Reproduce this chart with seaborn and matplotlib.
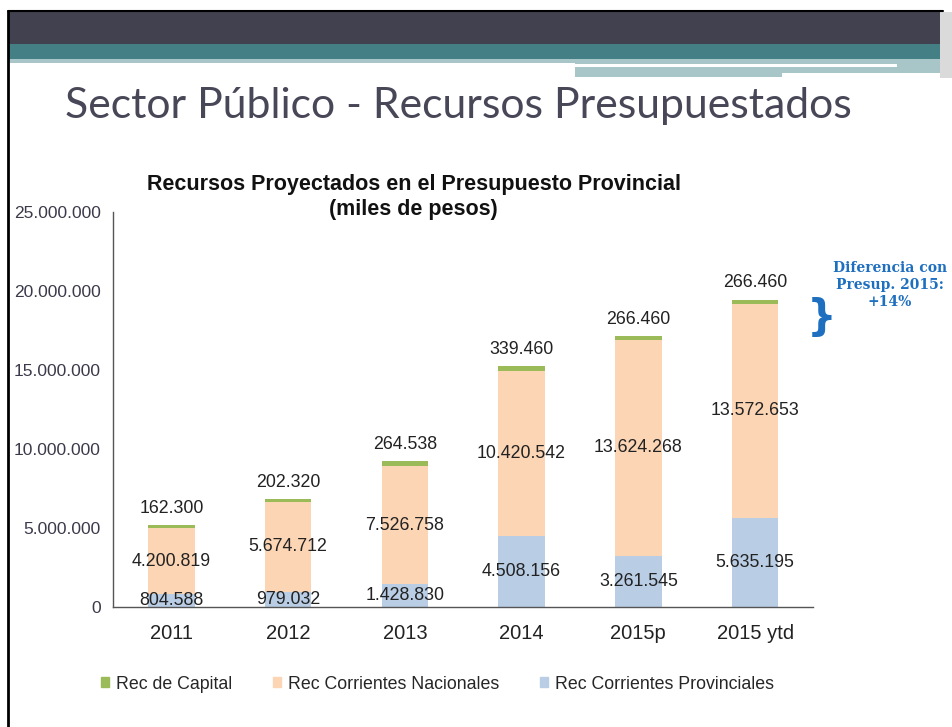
import numpy as np
import pandas as pd
import matplotlib
matplotlib.use('Agg')
import matplotlib.pyplot as plt
import seaborn as sns
from matplotlib.patches import Rectangle
from matplotlib.ticker import FuncFormatter, FixedLocator

# data (miles de pesos)
years = ['2011', '2012', '2013', '2014', '2015p', '2015 ytd']
rec_capital = [162300, 202320, 264538, 339460, 266460, 266460]
rec_nacionales = [4200819, 5674712, 7526758, 10420542, 13624268, 13572653]
rec_provinciales = [804588, 979032, 1428830, 4508156, 3261545, 5635195]

c_cap = '#9BBB59'
c_nac = '#FCD5B5'
c_prov = '#B9CDE5'

df = pd.DataFrame({'year': years, 'cap': rec_capital,
                   'nac': rec_nacionales, 'prov': rec_provinciales})
df['low'] = df['prov']
df['mid'] = df['prov'] + df['nac']
df['top'] = df['mid'] + df['cap']

sns.set_style('white')
plt.rcParams['font.family'] = ['Liberation Sans', 'DejaVu Sans']

fig = plt.figure(figsize=(9.53, 7.27), dpi=100)

# slide decoration
deco = fig.add_axes([0, 0, 1, 1], zorder=-5)
deco.set_xlim(0, 953)
deco.set_ylim(727, 0)
deco.axis('off')
deco.add_patch(Rectangle((8, 12), 935, 32, color='#41414F', lw=0))
deco.add_patch(Rectangle((8, 44), 935, 15, color='#447F85', lw=0))
deco.add_patch(Rectangle((8, 59), 567, 4, color='#A8C6C8', lw=0))
deco.add_patch(Rectangle((575, 59), 365, 18, color='#A8C6C8', lw=0))
deco.add_patch(Rectangle((575, 64), 322, 2.5, color='white', lw=0))
deco.add_patch(Rectangle((782, 73), 158, 4, color='white', lw=0))
deco.add_patch(Rectangle((940, 12), 13, 66, color='#DADADA', lw=0))
deco.plot([8, 8], [11, 727], color='black', lw=2)
deco.plot([8, 943], [11, 11], color='black', lw=1.5)
deco.text(65, 106, 'Sector Público - Recursos Presupuestados', fontsize=30.8,
          color='#474757', va='center', ha='left', family=['Lato', 'DejaVu Sans'])

ax = fig.add_axes([0.1186, 0.165, 0.735, 0.543])
w = 0.4
for col, c in [('top', c_cap), ('mid', c_nac), ('low', c_prov)]:
    sns.barplot(data=df, x='year', y=col, color=c, width=w, saturation=1,
                linewidth=0, edgecolor='none', ax=ax)

fmt = lambda v: f'{int(v):,}'.replace(',', '.')
lab = dict(fontsize=12.8, color='#222222')
for i in range(len(years)):
    ax.text(i, df['low'][i] / 2, fmt(rec_provinciales[i]), ha='center', va='center', **lab)
    ax.text(i, df['low'][i] + rec_nacionales[i] / 2, fmt(rec_nacionales[i]), ha='center',
            va='center', **lab)
    ax.annotate(fmt(rec_capital[i]), (i, df['top'][i]), xytext=(0, 12),
                textcoords='offset points', ha='center', va='center', **lab)

ax.set_ylim(0, 25000000)
ax.set_xlim(-0.5, 5.5)
ax.yaxis.set_major_locator(FixedLocator(np.arange(0, 25000001, 5000000)))
ax.yaxis.set_major_formatter(FuncFormatter(lambda v, p: fmt(v)))
ax.set_xlabel('')
ax.set_ylabel('')
ax.xaxis.set_minor_locator(FixedLocator(np.arange(0.5, 6, 1)))
ax.tick_params(axis='x', which='major', length=0, labelsize=14.5, pad=12, colors='#222222')
ax.tick_params(axis='x', which='minor', length=5, width=1, color='#555555', direction='out')
ax.tick_params(axis='y', length=5, width=1, color='#555555', direction='out',
               labelsize=12.5, labelcolor='#3a3a4a', pad=4)
for s in ['top', 'right']:
    ax.spines[s].set_visible(False)
for s in ['left', 'bottom']:
    ax.spines[s].set_color('#555555')
    ax.spines[s].set_linewidth(1)

fig.text(0.434, 0.729, 'Recursos Proyectados en el Presupuesto Provincial\n(miles de pesos)',
         ha='center', va='center', fontsize=15.5, fontweight='bold', color='#111111',
         linespacing=1.2)

# legend
handles = [Rectangle((0, 0), 1, 1, color=c) for c in [c_cap, c_nac, c_prov]]
fig.legend(handles, ['Rec de Capital', 'Rec Corrientes Nacionales', 'Rec Corrientes Provinciales'],
           loc='center', bbox_to_anchor=(0.459, 0.059), ncol=3, frameon=False,
           fontsize=12.8, handlelength=0.45, handleheight=0.45, columnspacing=2.3,
           handletextpad=0.4)

# side note
fig.text(0.934, 0.608, 'Diferencia con\nPresup. 2015:\n+14%', ha='center', va='center',
         fontsize=10, fontweight='bold', color='#1F6FC0', family=['DejaVu Serif'],
         linespacing=1.28)
fig.text(0.862, 0.562, '}', ha='center', va='center', fontsize=30, fontweight='bold',
         color='#1F6FC0', family=['DejaVu Sans'])

fig.savefig('out.png', dpi=100)
